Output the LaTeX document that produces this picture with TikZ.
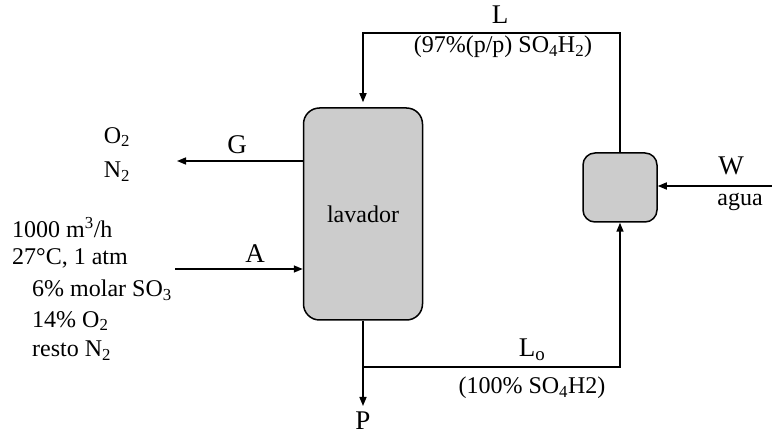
\documentclass[tikz,border=0pt]{standalone}
\usepackage{fontspec}
\setmainfont{Liberation Serif}
\usetikzlibrary{arrows.meta}
\begin{document}
\begin{tikzpicture}[x=1pt,y=-1pt,
    equipo/.style={draw, line width=1.5pt, fill=black!20, inner sep=0pt},
    flujo/.style={line width=1.5pt, -{Triangle[length=9pt,width=7pt]}},
    rotulo/.style={inner sep=0pt, font=\fontsize{24}{29}\selectfont},
    letra/.style={inner sep=0pt, font=\fontsize{27}{32}\selectfont}]
    \useasboundingbox (0,0) rectangle (772,438);
    \node[equipo, rounded corners=16pt, minimum width=119pt, minimum height=212pt, rotulo] (lavador) at (363,214) {lavador};
    \node[equipo, rounded corners=12pt, minimum width=74pt, minimum height=69pt] (mezclador) at (620,187.5) {};
    \coordinate (Lcodo) at (363,33);
    \coordinate (Gfin) at (177,161);
    \coordinate (Aini) at (175,269);
    \coordinate (Locodo) at (363,367);
    \coordinate (Pfin) at (363,406);
    \coordinate (Wini) at (772,186);
    \node[letra] (L) at (500,15) {L};
    \node[rotulo] (Lcomp) at (503,47) {(97\%(p/p) SO\textsubscript{4}H\textsubscript{2})};
    \node[letra] (G) at (237,145) {G};
    \node[rotulo] (O2) at (117,137) {O\textsubscript{2}};
    \node[rotulo] (N2) at (117,172) {N\textsubscript{2}};
    \node[letra] (A) at (255,254) {A};
    \node[rotulo, anchor=west] (caudal) at (12,228) {1000 m\textsuperscript{3}/h};
    \node[rotulo, anchor=west] (cond) at (12,258) {27°C, 1 atm};
    \node[rotulo, anchor=west] (so3) at (32,290) {6\% molar SO\textsubscript{3}};
    \node[rotulo, anchor=west] (o2) at (32,321) {14\% O\textsubscript{2}};
    \node[rotulo, anchor=west] (resto) at (32,351) {resto N\textsubscript{2}};
    \node[letra] (Lo) at (532,350) {L\textsubscript{o}};
    \node[rotulo] (Locomp) at (532,388) {(100\% SO\textsubscript{4}H2)};
    \node[letra] (P) at (363,421) {P};
    \node[letra] (W) at (731,166) {W};
    \node[rotulo] (agua) at (740,202) {agua};
    \draw[flujo, shorten >=5pt] (mezclador.north) |- (Lcodo) -- (lavador.north);
    \draw[flujo] (lavador.west |- Gfin) -- (Gfin);
    \draw[flujo] (Aini) -- (lavador.west |- Aini);
    \draw[flujo] (lavador.south) -- (Pfin);
    \draw[flujo] (Locodo) -| (mezclador.south);
    \draw[flujo] (Wini) -- (mezclador.east |- Wini);
\end{tikzpicture}
\end{document}
